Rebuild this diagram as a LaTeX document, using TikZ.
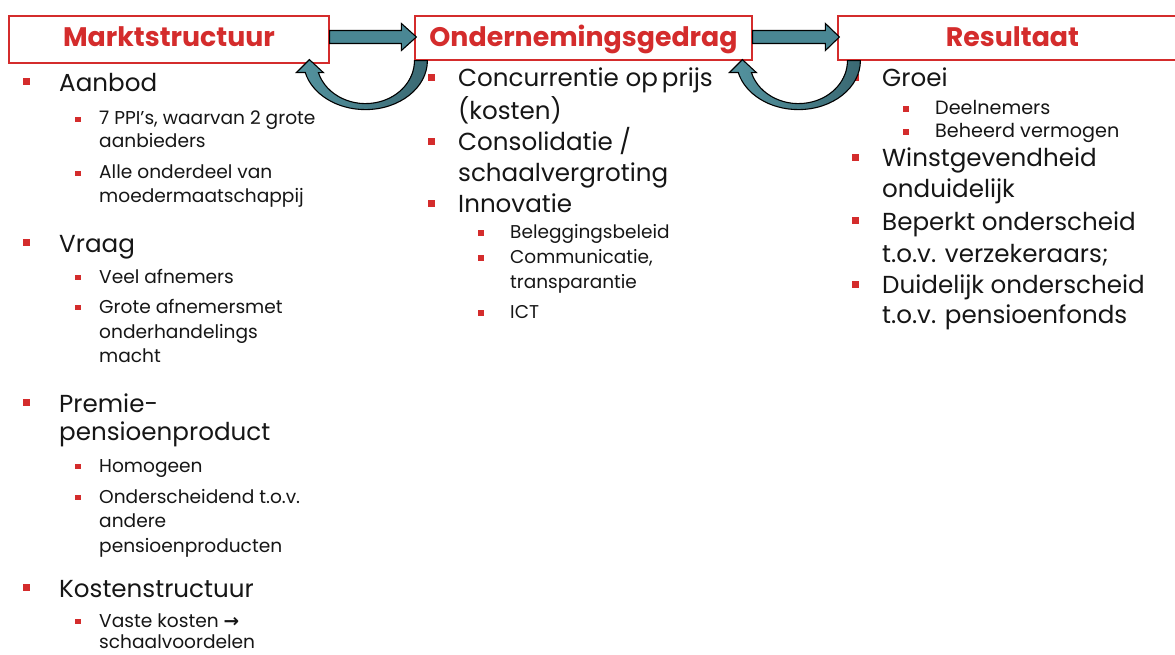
\documentclass[tikz,border=0pt]{standalone}
\usepackage{fontspec}
\setmainfont{Poppins}
\newfontfamily\arrowfont{DejaVu Sans}
\usetikzlibrary{calc}
\definecolor{bred}{RGB}{212,44,44}
\definecolor{teal1}{RGB}{74,135,148}
\definecolor{tealL}{RGB}{84,148,160}
\definecolor{tealD}{RGB}{58,104,114}
\definecolor{txt}{RGB}{22,22,22}
\begin{document}
\begin{tikzpicture}[x=1pt,y=-1pt,
  box/.style={draw=bred, line width=1.2pt, fill=white, text=bred,
    font=\fontsize{26.8}{30}\selectfont\bfseries, inner sep=0pt,
    text height=31pt, text depth=16pt, anchor=base},
  tA/.style={anchor=base west, inner sep=0pt, text=txt, font=\fontsize{24.6}{28}\selectfont},
  tB/.style={anchor=base west, inner sep=0pt, text=txt, font=\fontsize{18.6}{22}\selectfont},
  tC/.style={anchor=base west, inner sep=0pt, text=txt, font=\fontsize{18.5}{22}\selectfont},
  tD/.style={anchor=base west, inner sep=0pt, text=txt, font=\fontsize{19.2}{22}\selectfont},
  bA/.style={fill=bred, inner sep=0pt, minimum size=7pt},
  bB/.style={fill=bred, inner sep=0pt, minimum size=5.5pt},
  blockarrow/.style={draw=black, line width=1.1pt, fill=teal1, line join=miter},
  curvearrow/.style={draw=black, line width=1.1pt, left color=tealL, right color=tealD, line join=miter}]
\useasboundingbox (0,0) rectangle (1175,655);
\fill[white] (0,0) rectangle (1175,655);

% boxes
\node[box, minimum width=320pt] (m) at (169,47) {Marktstructuur};
\node[box, minimum width=337pt, text depth=13pt] (o) at (583.5,47) {Ondernemingsgedrag};
\node[box, minimum width=349pt, text depth=13pt] (r) at (1012.5,47) {Resultaat};

% left column
\node[bA] (lb1) at (26,82) {};
\node[tA] (l1) at (59,92) {Aanbod};
\node[bB] (lb2) at (78,119.5) {};
\node[tB] (l2) at (99,125) {7 PPI’s, waarvan 2 grote};
\node[tB] (l3) at (99,148) {aanbieders};
\node[bB] (lb4) at (78,173.5) {};
\node[tB] (l4) at (99,179) {Alle onderdeel van};
\node[tB] (l5) at (99,203) {moedermaatschappij};
\node[bA] (lb6) at (26,242) {};
\node[tA] (l6) at (59,252) {Vraag};
\node[bB] (lb7) at (78,277.5) {};
\node[tB] (l7) at (99,283) {Veel afnemers};
\node[bB] (lb8) at (78,307.5) {};
\node[tB] (l8) at (99,313) {Grote afnemersmet};
\node[tB] (l9) at (99,338) {onderhandelings};
\node[tB] (l10) at (99,362) {macht};
\node[bA] (lb11) at (26,402) {};
\node[tA] (l11) at (59,412) {Premie-};
\node[tA] (l12) at (59,440) {pensioenproduct};
\node[bB] (lb13) at (78,466.5) {};
\node[tB] (l13) at (99,472) {Homogeen};
\node[bB] (lb14) at (78,497.5) {};
\node[tB] (l14) at (99,503) {Onderscheidend t.o.v.};
\node[tB] (l15) at (99,527) {andere};
\node[tB] (l16) at (99,552) {pensioenproducten};
\node[bA] (lb17) at (26,587) {};
\node[tA] (l17) at (59,597) {Kostenstructuur};
\node[bB] (lb18) at (78,621.5) {};
\node[tB] (l18) at (99,627) {Vaste kosten {\arrowfont\bfseries →}};
\node[tB] (l19) at (99,648) {schaalvoordelen};

% middle column
\node[bA] (mb1) at (431,78) {};
\node[tA] (m1) at (458,87) {Concurrentie op\,prijs};
\node[tA] (m2) at (458,120) {(kosten)};
\node[bA] (mb3) at (431,142) {};
\node[tA] (m3) at (458,151) {Consolidatie /};
\node[tA] (m4) at (458,182) {schaalvergroting};
\node[bA] (mb5) at (431,204) {};
\node[tA] (m5) at (458,213) {Innovatie};
\node[bB] (mb6) at (481,233) {};
\node[tC] (m6) at (510,238) {Beleggingsbeleid};
\node[bB] (mb7) at (481,258) {};
\node[tC] (m7) at (510,263) {Communicatie,};
\node[tC] (m8) at (510,288) {transparantie};
\node[bB] (mb9) at (481,313) {};
\node[tC] (m9) at (510,318) {ICT};

% right column
\node[bA] (rb1) at (855,78) {};
\node[tA] (r1) at (882,87) {Groei};
\node[bB] (rb2) at (906,109) {};
\node[tD] (r2) at (935,115) {Deelnemers};
\node[bB] (rb3) at (906,132) {};
\node[tD] (r3) at (935,138) {Beheerd vermogen};
\node[bA] (rb4) at (855,158) {};
\node[tA] (r4) at (882,167) {Winstgevendheid};
\node[tA] (r5) at (882,198) {onduidelijk};
\node[bA] (rb6) at (855,221) {};
\node[tA] (r6) at (882,230) {Beperkt onderscheid};
\node[tA] (r7) at (882,262) {t.o.v. verzekeraars;};
\node[bA] (rb8) at (855,284) {};
\node[tA] (r8) at (882,293) {Duidelijk onderscheid};
\node[tA] (r9) at (882,323) {t.o.v. pensioenfonds};

% straight block arrows
\coordinate (ya) at (0,37);
\draw[blockarrow] ($(m.east|-ya)+(0,-6.5)$) -- ($(o.west|-ya)+(-13,-6.5)$) -- ($(o.west|-ya)+(-13,-13.5)$)
  -- ($(o.west|-ya)+(2,0)$) -- ($(o.west|-ya)+(-13,13.5)$) -- ($(o.west|-ya)+(-13,6.5)$)
  -- ($(m.east|-ya)+(0,6.5)$) -- cycle;
\draw[blockarrow] ($(o.east|-ya)+(0,-6.5)$) -- ($(r.west|-ya)+(-12,-6.5)$) -- ($(r.west|-ya)+(-12,-13.5)$)
  -- ($(r.west|-ya)+(2,0)$) -- ($(r.west|-ya)+(-12,13.5)$) -- ($(r.west|-ya)+(-12,6.5)$)
  -- ($(o.east|-ya)+(0,6.5)$) -- cycle;

% curved feedback arrows
\coordinate (f1) at ($(o.south west)+(-49,0)$);
\coordinate (f2) at ($(r.south west)+(-39,0)$);
\foreach \c in {f1,f2}{
  \begin{scope}[shift={(\c)}]
    \draw[curvearrow] (62,0) arc[start angle=0, end angle=166, x radius=62, y radius=49]
      -- (-69,12) -- (-56,-1) -- (-42,12) -- (-47,12)
      arc[start angle=163.8, end angle=0, x radius=49, y radius=43] -- cycle;
  \end{scope}
}
\end{tikzpicture}
\end{document}
